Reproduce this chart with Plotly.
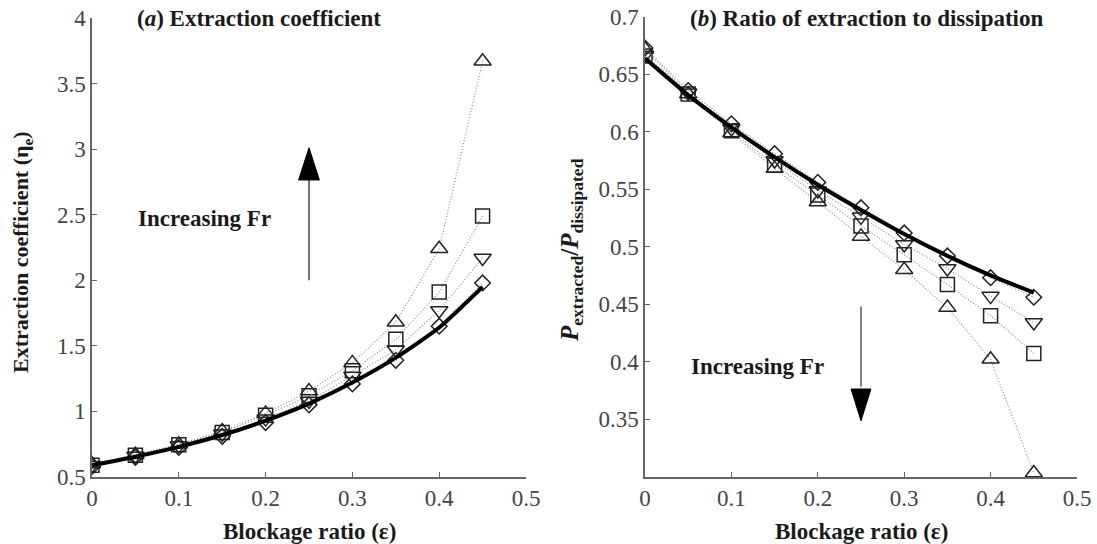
import plotly.graph_objects as go

# ---------------- data ----------------
eps = [0, 0.05, 0.1, 0.15, 0.2, 0.25, 0.3, 0.35, 0.4, 0.45]

# (a) extraction coefficient
tri_up_a = [0.60, 0.67, 0.75, 0.85, 0.985, 1.155, 1.37, 1.68, 2.24, 3.67]
square_a = [0.59, 0.665, 0.745, 0.84, 0.97, 1.12, 1.31, 1.55, 1.91, 2.49]
tri_dn_a = [0.59, 0.66, 0.74, 0.83, 0.945, 1.08, 1.27, 1.47, 1.77, 2.17]
diamond_a = [0.58, 0.65, 0.725, 0.81, 0.915, 1.05, 1.21, 1.39, 1.65, 1.98]
theory_a = [0.59, 0.655, 0.73, 0.82, 0.93, 1.06, 1.22, 1.41, 1.64, 1.95]

# (b) ratio of extraction to dissipation
tri_up_b = [0.672, 0.633, 0.599, 0.568, 0.539, 0.509, 0.480, 0.447, 0.402, 0.303]
square_b = [0.666, 0.633, 0.601, 0.571, 0.545, 0.518, 0.493, 0.467, 0.440, 0.407]
tri_dn_b = [0.667, 0.634, 0.603, 0.575, 0.549, 0.526, 0.502, 0.481, 0.457, 0.434]
diamond_b = [0.673, 0.636, 0.607, 0.581, 0.556, 0.534, 0.512, 0.492, 0.473, 0.456]
theory_b = [0.664, 0.632, 0.604, 0.578, 0.554, 0.532, 0.511, 0.492, 0.475, 0.460]

x_ticks = [0, 0.1, 0.2, 0.3, 0.4, 0.5]
x_tick_text = ["0", "0.1", "0.2", "0.3", "0.4", "0.5"]
ya_ticks = [0.5, 1, 1.5, 2, 2.5, 3, 3.5, 4]
ya_tick_text = ["0.5", "1", "1.5", "2", "2.5", "3", "3.5", "4"]
yb_ticks = [0.35, 0.4, 0.45, 0.5, 0.55, 0.6, 0.65, 0.7]
yb_tick_text = ["0.35", "0.4", "0.45", "0.5", "0.55", "0.6", "0.65", "0.7"]

W, H = 1097, 544
SERIF = "Liberation Serif"
MK = "#222222"

fig = go.Figure()

series_style = [
    ("triangle-up-open", 15),
    ("square-open", 14),
    ("triangle-down-open", 15),
    ("diamond-open", 12),
]

def add_panel(xa, ya, sets, theory):
    for (sym, sz), vals in zip(series_style, sets):
        fig.add_trace(go.Scatter(
            x=eps, y=vals, mode="lines+markers", xaxis=xa, yaxis=ya,
            line=dict(color="#8f8f8f", width=1.2, dash="1px,2px"),
            marker=dict(symbol=sym, size=sz, color=MK, line=dict(color=MK, width=1.5)),
            showlegend=False, hoverinfo="skip"))
    fig.add_trace(go.Scatter(
        x=eps, y=theory, mode="lines", xaxis=xa, yaxis=ya,
        line=dict(color="black", width=4, shape="spline", smoothing=0.6),
        showlegend=False, hoverinfo="skip"))

add_panel("x", "y", [tri_up_a, square_a, tri_dn_a, diamond_a], theory_a)
add_panel("x2", "y2", [tri_up_b, square_b, tri_dn_b, diamond_b], theory_b)

axis_common = dict(
    showgrid=False, zeroline=False, showline=True, linecolor="#666666", linewidth=1.5,
    ticks="inside", ticklen=5, tickcolor="#666666", tickwidth=1.2, automargin=False,
    ticklabeloverflow="allow",
    tickfont=dict(family=SERIF, size=23, color="#444444"),
)

def xd(a, b):
    return [a / W, b / W]

def yd(top, bottom):
    return [1 - bottom / H, 1 - top / H]

fig.update_layout(
    width=W, height=H,
    margin=dict(l=0, r=0, t=0, b=0, autoexpand=False),
    paper_bgcolor="white", plot_bgcolor="white",
    xaxis=dict(domain=xd(92, 526), range=[0, 0.5], tickvals=x_ticks, ticktext=x_tick_text,
               anchor="y", **axis_common),
    yaxis=dict(domain=yd(18, 477), range=[0.5, 4], tickvals=ya_ticks, ticktext=ya_tick_text,
               anchor="x", **axis_common),
    xaxis2=dict(domain=xd(645, 1077), range=[0, 0.5], tickvals=x_ticks, ticktext=x_tick_text,
                anchor="y2", **axis_common),
    yaxis2=dict(domain=yd(17, 477), range=[0.2995, 0.7], tickvals=yb_ticks, ticktext=yb_tick_text,
                anchor="x2", **axis_common),
)

title_font = dict(family=SERIF, size=23, color="#1a1a1a")
ann = []
ann.append(dict(text="<b>(<i>a</i>) Extraction coefficient</b>", x=135 / W, y=1 - 19 / H,
                xref="paper", yref="paper", xanchor="left", yanchor="middle", showarrow=False, font=title_font))
ann.append(dict(text="<b>(<i>b</i>) Ratio of extraction to dissipation</b>", x=688 / W, y=1 - 19 / H,
                xref="paper", yref="paper", xanchor="left", yanchor="middle", showarrow=False, font=title_font))
ann.append(dict(text="<b>Increasing Fr</b>", x=136 / W, y=1 - 218 / H,
                xref="paper", yref="paper", xanchor="left", yanchor="middle", showarrow=False, font=title_font))
ann.append(dict(text="<b>Increasing Fr</b>", x=689 / W, y=1 - 366 / H,
                xref="paper", yref="paper", xanchor="left", yanchor="middle", showarrow=False, font=title_font))
ann.append(dict(text="<b>Blockage ratio (ε)</b>", x=309 / W, y=1 - 531 / H,
                xref="paper", yref="paper", xanchor="center", yanchor="middle", showarrow=False, font=title_font))
ann.append(dict(text="<b>Blockage ratio (ε)</b>", x=861 / W, y=1 - 531 / H,
                xref="paper", yref="paper", xanchor="center", yanchor="middle", showarrow=False, font=title_font))
ann.append(dict(text="<b>Extraction coefficient (η<sub>e</sub>)</b>", x=22 / W, y=1 - 252 / H,
                xref="paper", yref="paper", xanchor="center", yanchor="middle", textangle=-90,
                showarrow=False, font=dict(family=SERIF, size=22, color="#1a1a1a")))
ann.append(dict(text="<b><i>P</i><sub>extracted</sub>/<i>P</i><sub>dissipated</sub></b>", x=572 / W, y=1 - 250 / H,
                xref="paper", yref="paper", xanchor="center", yanchor="middle", textangle=-90,
                showarrow=False, font=dict(family=SERIF, size=25, color="#1a1a1a")))
fig.update_layout(annotations=ann)

# arrows (annotation graphics, drawn as shapes)
shapes = [
    dict(type="line", xref="x", yref="y", x0=0.25, x1=0.25, y0=2.0, y1=2.8,
         line=dict(color="#777777", width=2.2)),
    dict(type="path", xref="x", yref="y",
         path="M 0.238 2.765 L 0.262 2.765 L 0.25 3.01 Z",
         fillcolor="black", line=dict(color="black", width=1)),
    dict(type="line", xref="x2", yref="y2", x0=0.25, x1=0.25, y0=0.448, y1=0.378,
         line=dict(color="#666666", width=1.6)),
    dict(type="path", xref="x2", yref="y2",
         path="M 0.2385 0.3761 L 0.2615 0.3761 L 0.25 0.3485 Z",
         fillcolor="black", line=dict(color="black", width=1)),
]
fig.update_layout(shapes=shapes)

fig.write_html(
    "out.html",
    config={"displayModeBar": False},
    post_script="document.body.style.margin='0';document.body.style.overflow='hidden';",
)
